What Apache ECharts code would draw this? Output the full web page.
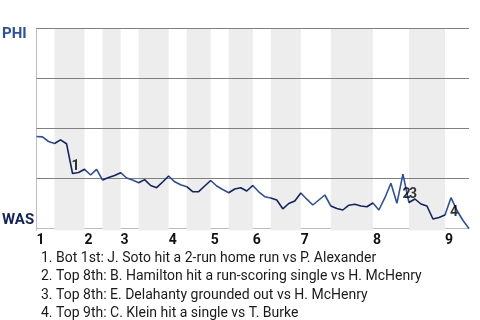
<!DOCTYPE html>
<html><head><meta charset="utf-8">
<script src="https://cdn.jsdelivr.net/npm/echarts@6/dist/echarts.min.js"></script>
<style>html,body{margin:0;padding:0;background:#fff}#c{width:480px;height:320px}</style>
</head><body><div id="c"></div>
<script>
// Win probability for the top team (PHI), one value per play boundary
const winProb = [
  0.46, 0.458, 0.435, 0.425, 0.443, 0.424, 0.275, 0.28, 0.296, 0.2675,
  0.296, 0.2425, 0.255, 0.265, 0.279, 0.2525, 0.2425, 0.229, 0.2445, 0.215,
  0.204, 0.2325, 0.2625, 0.2335, 0.219, 0.209, 0.184, 0.184, 0.2125, 0.24,
  0.2125, 0.195, 0.179, 0.1975, 0.204, 0.1875, 0.215, 0.1835, 0.159, 0.1525,
  0.1425, 0.0985, 0.125, 0.1375, 0.1775, 0.1465, 0.1175, 0.1425, 0.1675, 0.1125,
  0.1, 0.0925, 0.1165, 0.121, 0.1125, 0.109, 0.1275, 0.0925, 0.154, 0.226,
  0.126, 0.2715, 0.13, 0.1475, 0.1225, 0.1125, 0.0475, 0.055, 0.0675, 0.154,
  0.09, 0.04, 0
];
// play index where each half-inning starts (last = end of game)
const halfInningStarts = [0, 3, 8, 11, 14, 17, 22, 25, 29, 32, 36, 39, 44, 49, 56, 62, 68, 72];
const inningStarts = [0, 8, 14, 22, 29, 36, 44, 56, 68];
const inningLabels = ['1', '2', '3', '4', '5', '6', '7', '8', '9'];
const eventPlays = [6, 61, 62, 69];
const eventLabels = ['1', '2', '3', '4'];
const eventTexts = [
  '1. Bot 1st: J. Soto hit a 2-run home run vs P. Alexander',
  '2. Top 8th: B. Hamilton hit a run-scoring single vs H. McHenry',
  '3. Top 8th: E. Delahanty grounded out vs H. McHenry',
  '4. Top 9th: C. Klein hit a single vs T. Burke'
];
const gridValues = [0.25, 0.5, 0.75, 1];
const teamTop = 'PHI', teamBottom = 'WAS';

const topColor = '#2a4fa8', bottomColor = '#13235e';
const labelOffsets = [[3, -7.5], [3.6, 19.8], [4, -8.5], [3, 14.3]];

const bottomHalves = [];
for (let k = 1; k + 1 < halfInningStarts.length; k += 2) {
  bottomHalves.push([halfInningStarts[k], halfInningStarts[k + 1]]);
}

const chart = echarts.init(document.getElementById('c'), null, {renderer: 'canvas'});
chart.setOption({
  animation: false,
  textStyle: {fontFamily: 'Roboto'},
  grid: {left: 36.5, right: 11, top: 28.5, bottom: 89.5},
  title: {
    text: eventTexts.join('\n'),
    left: 36, top: 244,
    textStyle: {fontFamily: 'Roboto', fontSize: 14, fontWeight: 'normal', color: '#1a1a1a', lineHeight: 18.5}
  },
  xAxis: {
    type: 'value', min: 0, max: halfInningStarts[halfInningStarts.length - 1],
    axisLine: {show: true, lineStyle: {color: '#bdbdbd', width: 1}},
    axisTick: {show: false},
    splitLine: {show: false},
    axisLabel: {
      customValues: inningStarts,
      formatter: v => inningLabels[inningStarts.indexOf(v)],
      align: 'left', margin: 3,
      fontFamily: 'Roboto', fontSize: 14, fontWeight: 'bold', color: '#111'
    }
  },
  yAxis: {
    type: 'value', min: -0.01, max: 1,
    axisLine: {show: true, lineStyle: {color: '#bdbdbd', width: 1}},
    axisTick: {show: false}, axisLabel: {show: false}, splitLine: {show: false}
  },
  visualMap: {
    type: 'piecewise', show: false, dimension: 0, seriesIndex: 2,
    pieces: bottomHalves.map(r => ({gte: r[0], lt: r[1], color: bottomColor})),
    outOfRange: {color: topColor}
  },
  graphic: [
    {type: 'text', left: 2, top: 27, style: {text: teamTop, font: 'bold 15px Roboto', fill: topColor}},
    {type: 'text', left: 2, top: 213, style: {text: teamBottom, font: 'bold 15px Roboto', fill: bottomColor}}
  ],
  series: [
    {
      type: 'line', data: [], z: 1, silent: true,
      markArea: {
        silent: true, z: 1,
        itemStyle: {color: '#ededed'},
        data: bottomHalves.map(r => [{xAxis: r[0]}, {xAxis: r[1]}])
      }
    },
    {
      type: 'line', data: [], z: 1, silent: true,
      markLine: {
        silent: true, z: 1.5, symbol: 'none', label: {show: false},
        lineStyle: {color: '#808080', width: 1, type: 'solid'},
        data: gridValues.map(v => ({yAxis: v}))
      }
    },
    {
      type: 'line', z: 3, showSymbol: false, silent: true,
      data: winProb.map((v, i) => [i, v]),
      lineStyle: {width: 1.6}
    },
    {
      type: 'scatter', z: 4, symbolSize: 0, silent: true,
      data: eventPlays.map((p, k) => ({
        value: [p, winProb[p]],
        label: {
          show: true, position: 'inside', offset: labelOffsets[k],
          formatter: eventLabels[k],
          fontFamily: 'Roboto', fontSize: 14, fontWeight: 'bold', color: '#000',
          textBorderWidth: 0, textBorderColor: 'transparent'
        }
      }))
    }
  ]
});
</script></body></html>
